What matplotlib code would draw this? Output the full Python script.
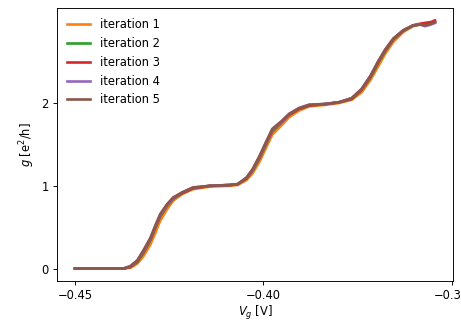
import matplotlib
matplotlib.use('Agg')
import matplotlib.pyplot as plt

# gate voltage grid [V]
vg = [-0.4500, -0.4450, -0.4400, -0.43711, -0.43526, -0.43342, -0.43184, -0.4300,
      -0.42868, -0.42737, -0.42553, -0.42395, -0.42158, -0.41868, -0.41421,
      -0.40895, -0.40684, -0.40447, -0.40289, -0.40105, -0.39921, -0.39763,
      -0.39526, -0.39316, -0.39053, -0.38789, -0.38342, -0.3800, -0.37658,
      -0.37395, -0.37158, -0.36947, -0.36763, -0.36553, -0.36289, -0.36026,
      -0.35842, -0.35711, -0.35553, -0.35447]

# conductance [e^2/h] for each iteration
g1 = [0.0, 0.0, 0.0, 0.0, 0.01, 0.06, 0.15, 0.29, 0.43, 0.58, 0.72, 0.82,
      0.90, 0.96, 0.99, 1.00, 1.01, 1.07, 1.15, 1.29, 1.47, 1.62, 1.73,
      1.83, 1.91, 1.96, 1.98, 2.00, 2.04, 2.13, 2.28, 2.45, 2.60, 2.74,
      2.86, 2.93, 2.95, 2.95, 2.96, 2.98]
g2 = [0.0, 0.0, 0.0, 0.0, 0.02, 0.08, 0.19, 0.34, 0.49, 0.63, 0.76, 0.84,
      0.91, 0.97, 1.00, 1.01, 1.02, 1.09, 1.18, 1.33, 1.51, 1.66, 1.76,
      1.86, 1.93, 1.97, 1.99, 2.01, 2.05, 2.16, 2.31, 2.49, 2.63, 2.77,
      2.87, 2.94, 2.95, 2.95, 2.97, 2.98]
g3 = [0.0, 0.0, 0.0, 0.0, 0.02, 0.09, 0.20, 0.35, 0.50, 0.64, 0.77, 0.85,
      0.91, 0.97, 1.00, 1.01, 1.02, 1.09, 1.19, 1.34, 1.52, 1.67, 1.77,
      1.86, 1.93, 1.97, 1.99, 2.01, 2.05, 2.16, 2.32, 2.50, 2.64, 2.77,
      2.88, 2.94, 2.96, 2.97, 2.98, 3.00]
g4 = [0.0, 0.0, 0.0, 0.0, 0.03, 0.10, 0.21, 0.36, 0.51, 0.65, 0.77, 0.85,
      0.92, 0.98, 1.00, 1.01, 1.02, 1.10, 1.19, 1.35, 1.53, 1.68, 1.77,
      1.87, 1.94, 1.98, 1.99, 2.01, 2.06, 2.17, 2.33, 2.51, 2.65, 2.78,
      2.88, 2.94, 2.95, 2.93, 2.95, 2.97]
g5 = [0.0, 0.0, 0.0, 0.0, 0.03, 0.10, 0.22, 0.37, 0.52, 0.66, 0.78, 0.86,
      0.92, 0.98, 1.00, 1.01, 1.02, 1.10, 1.20, 1.36, 1.54, 1.69, 1.78,
      1.87, 1.94, 1.98, 1.99, 2.01, 2.06, 2.17, 2.33, 2.51, 2.65, 2.78,
      2.88, 2.94, 2.95, 2.94, 2.96, 2.98]

series = [g1, g2, g3, g4, g5]
colors = ['#ff7f0e', '#2ca02c', '#d62728', '#9467bd', '#8c564b']

DPI = 83
fig = plt.figure(figsize=(461 / DPI, 320 / DPI), dpi=DPI)
ax = fig.add_axes([0.1236, 0.122, 0.859, 0.853])

for i, (g, c) in enumerate(zip(series, colors)):
    ax.plot(vg, g, color=c, lw=2.3, label=f'iteration {i + 1}')

ax.set_xticks([-0.45, -0.40, -0.35])
ax.set_yticks([0, 1, 2])
ax.set_xlabel('$V_g$ [V]', labelpad=1.5)
ax.set_ylabel('$g$ [e$^2$/h]')
ax.legend(frameon=False, loc='upper left')

fig.savefig('out.png', dpi=DPI)
